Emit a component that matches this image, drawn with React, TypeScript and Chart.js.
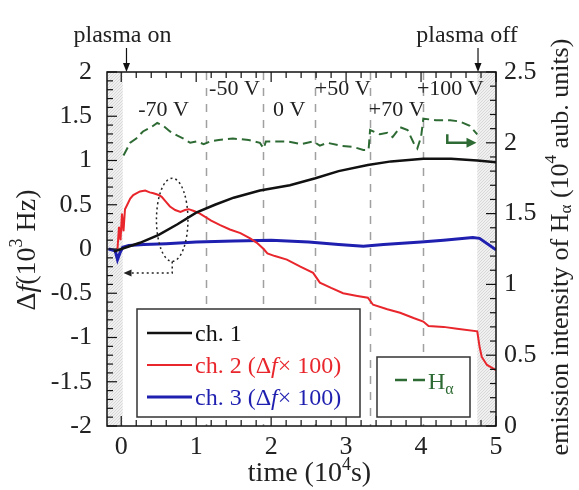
import React, { useEffect, useRef } from "react";
import { Chart, registerables } from "chart.js";

Chart.register(...registerables);

// ---------------- data ----------------
const ch1X = [-0.1, 0.0, 0.25, 0.5, 0.75, 1.0, 1.25, 1.5, 1.85, 2.25, 2.59, 2.9, 3.29, 3.6, 4.03, 4.4, 4.75, 5.0];
const ch1Y = [-0.03, 0.0, 0.07, 0.16, 0.28, 0.41, 0.5, 0.58, 0.66, 0.72, 0.8, 0.88, 0.95, 0.99, 1.02, 1.02, 1.0, 0.98];

const ch2X = [-0.05, -0.03, -0.01, 0.01, 0.03, 0.05, 0.08, 0.12, 0.16, 0.25, 0.32, 0.38, 0.43, 0.5, 0.54, 0.6, 0.65, 0.72, 0.79, 0.85, 0.9, 0.97, 1.05, 1.2, 1.32, 1.45, 1.59, 1.72, 1.81, 1.9, 1.95, 2.05, 2.21, 2.39, 2.56, 2.65, 2.8, 2.96, 3.15, 3.29, 3.36, 3.55, 3.72, 3.9, 4.03, 4.1, 4.3, 4.48, 4.75, 4.78, 4.81, 4.88, 5.0];
const ch2Y = [0.0, 0.25, 0.1, 0.4, 0.2, 0.45, 0.5, 0.57, 0.61, 0.65, 0.66, 0.64, 0.63, 0.61, 0.59, 0.53, 0.48, 0.44, 0.42, 0.44, 0.45, 0.43, 0.4, 0.32, 0.27, 0.22, 0.18, 0.12, 0.07, 0.0, -0.05, -0.08, -0.12, -0.2, -0.27, -0.38, -0.44, -0.5, -0.53, -0.55, -0.63, -0.68, -0.72, -0.78, -0.82, -0.87, -0.88, -0.9, -0.93, -1.1, -1.22, -1.31, -1.37];

const ch3X = [-0.17, -0.08, -0.05, -0.02, 0.02, 0.1, 0.3, 0.6, 1.0, 1.5, 2.0, 2.5, 2.9, 3.23, 3.5, 4.0, 4.3, 4.69, 4.78, 5.0];
const ch3Y = [0.0, -0.02, -0.12, -0.05, 0.02, 0.04, 0.05, 0.06, 0.08, 0.09, 0.1, 0.08, 0.05, 0.03, 0.05, 0.08, 0.1, 0.13, 0.12, -0.01];

const haX = [0.03, 0.12, 0.2, 0.29, 0.4, 0.48, 0.56, 0.65, 0.75, 0.83, 0.92, 1.01, 1.1, 1.19, 1.3, 1.49, 1.7, 1.85, 1.9, 1.93, 2.21, 2.4, 2.56, 2.65, 2.75, 2.92, 3.1, 3.23, 3.3, 3.32, 3.45, 3.55, 3.62, 3.72, 3.82, 3.9, 3.95, 4.0, 4.03, 4.2, 4.39, 4.52, 4.65, 4.75];
const haY = [1.91, 2.0, 2.03, 2.08, 2.11, 2.14, 2.12, 2.08, 2.05, 2.03, 2.0, 2.01, 1.99, 2.01, 2.02, 2.03, 2.02, 2.0, 1.96, 2.01, 2.01, 1.99, 2.01, 1.98, 2.0, 1.98, 1.97, 1.95, 1.95, 2.09, 2.06, 2.07, 2.04, 2.11, 2.09, 2.0, 1.96, 2.04, 2.17, 2.16, 2.16, 2.15, 2.12, 2.06];

const xTicks = [0, 1, 2, 3, 4, 5];
const leftTicks = [-2, -1.5, -1, -0.5, 0, 0.5, 1, 1.5, 2];
const rightTicks = [0, 0.5, 1, 1.5, 2, 2.5];

const voltLabels = ["-70 V", "-50 V", "0 V", "+50 V", "+70 V", "+100 V"];
const voltEdges = [0, 1.13, 1.89, 2.59, 3.32, 4.03, 4.75];
const voltRowY = [1.57, 1.8, 1.57, 1.8, 1.57, 1.8];

const plasmaOnX = 0.07;
const plasmaOffX = 4.76;
const bandLeftEnd = 0.02;
const bandRightStart = 4.75;

// annotation anchors (data units)
const ellipseC = { x: 0.68, y: 0.33, rx: 0.21, ry: 0.47 };
const leftArrow = { fromX: 0.68, yLow: -0.27, toX: 0.03 };
const greenArrow = { x0: 4.35, yTop: 2.06, y: 2.0, x1: 4.74 };

// ---------------- styling ----------------
const SERIF = '"Liberation Serif", "Times New Roman", "DejaVu Serif", serif';
const C_BLACK = "#111111";
const C_RED = "#e8262c";
const C_BLUE = "#1f1fb0";
const C_GREEN = "#2e6b34";
const C_TEXT = "#222222";

type Seg = { t: string; i?: boolean; sup?: boolean; sub?: boolean; c?: string };

function segFont(s: Seg, size: number) {
  const fs = s.sup || s.sub ? Math.round(size * 0.65) : size;
  return `${s.i ? "italic " : ""}${fs}px ${SERIF}`;
}

function drawRich(
  ctx: CanvasRenderingContext2D,
  segs: Seg[],
  x: number,
  y: number,
  size: number,
  color: string,
  align: "left" | "center",
  rot = 0,
  baseline: CanvasTextBaseline = "alphabetic"
) {
  ctx.save();
  ctx.translate(x, y);
  ctx.rotate(rot);
  ctx.textBaseline = baseline;
  ctx.textAlign = "left";
  const widths = segs.map((s) => {
    ctx.font = segFont(s, size);
    return ctx.measureText(s.t).width;
  });
  const total = widths.reduce((a, b) => a + b, 0);
  let cx = align === "center" ? -total / 2 : 0;
  segs.forEach((s, k) => {
    ctx.font = segFont(s, size);
    ctx.fillStyle = s.c || color;
    const dy = s.sup ? -size * 0.38 : s.sub ? size * 0.22 : 0;
    ctx.fillText(s.t, cx, dy);
    cx += widths[k];
  });
  ctx.restore();
}

function line(ctx: CanvasRenderingContext2D, x0: number, y0: number, x1: number, y1: number) {
  ctx.beginPath();
  ctx.moveTo(x0, y0);
  ctx.lineTo(x1, y1);
  ctx.stroke();
}

function makePattern(ctx: CanvasRenderingContext2D) {
  const c = document.createElement("canvas");
  c.width = 3;
  c.height = 3;
  const p = c.getContext("2d")!;
  p.fillStyle = "#f0f0f0";
  p.fillRect(0, 0, 3, 3);
  p.fillStyle = "#d8d8d8";
  p.fillRect(0, 0, 1, 1);
  p.fillRect(2, 1, 1, 1);
  p.fillRect(1, 2, 1, 1);
  return ctx.createPattern(c, "repeat")!;
}

const decor = {
  id: "decor",
  beforeDatasetsDraw(chart: any) {
    const { ctx, chartArea: ca, scales } = chart;
    const xs = scales.x;
    ctx.save();
    ctx.fillStyle = makePattern(ctx);
    const b1 = xs.getPixelForValue(bandLeftEnd);
    ctx.fillRect(ca.left, ca.top, b1 - ca.left, ca.bottom - ca.top);
    const b2 = xs.getPixelForValue(bandRightStart);
    ctx.fillRect(b2, ca.top, ca.right - b2, ca.bottom - ca.top);

    ctx.strokeStyle = "#a0a0a0";
    ctx.lineWidth = 1.5;
    ctx.setLineDash([8, 8]);
    voltEdges.slice(1, -1).forEach((v) => {
      const px = Math.round(xs.getPixelForValue(v)) + 0.5;
      line(ctx, px, ca.top, px, ca.bottom);
    });
    ctx.restore();
  },
  afterDatasetsDraw(chart: any) {
    const { ctx, chartArea: ca, scales } = chart;
    const xs = scales.x;
    const yl = scales.y;
    const yr = scales.y2;
    ctx.save();

    // voltage labels
    ctx.fillStyle = C_TEXT;
    ctx.font = `22px ${SERIF}`;
    ctx.textAlign = "center";
    ctx.textBaseline = "middle";
    voltLabels.forEach((lab, k) => {
      const cxv = (voltEdges[k] + voltEdges[k + 1]) / 2;
      ctx.fillText(lab, xs.getPixelForValue(cxv), yl.getPixelForValue(voltRowY[k]));
    });

    // dotted ellipse and arrow to left axis
    const ex = xs.getPixelForValue(ellipseC.x);
    const ey = yl.getPixelForValue(ellipseC.y);
    const erx = Math.abs(xs.getPixelForValue(ellipseC.x + ellipseC.rx) - ex);
    const ery = Math.abs(yl.getPixelForValue(ellipseC.y + ellipseC.ry) - ey);
    ctx.strokeStyle = "#222";
    ctx.lineWidth = 1.5;
    ctx.setLineDash([2, 3]);
    ctx.beginPath();
    ctx.ellipse(ex, ey, erx, ery, 0, 0, Math.PI * 2);
    ctx.stroke();
    const ay = yl.getPixelForValue(leftArrow.yLow);
    const ax1 = xs.getPixelForValue(leftArrow.toX);
    ctx.beginPath();
    ctx.moveTo(ex, ey + ery);
    ctx.lineTo(ex, ay);
    ctx.lineTo(ax1 + 6, ay);
    ctx.stroke();
    ctx.setLineDash([]);
    ctx.fillStyle = "#222";
    ctx.beginPath();
    ctx.moveTo(ax1, ay);
    ctx.lineTo(ax1 + 8, ay - 3.5);
    ctx.lineTo(ax1 + 8, ay + 3.5);
    ctx.closePath();
    ctx.fill();

    // green arrow to right axis
    const gx0 = xs.getPixelForValue(greenArrow.x0);
    const gx1 = xs.getPixelForValue(greenArrow.x1);
    const gyt = yr.getPixelForValue(greenArrow.yTop);
    const gy = yr.getPixelForValue(greenArrow.y);
    ctx.strokeStyle = C_GREEN;
    ctx.fillStyle = C_GREEN;
    ctx.lineWidth = 2.5;
    ctx.beginPath();
    ctx.moveTo(gx0, gyt);
    ctx.lineTo(gx0, gy);
    ctx.lineTo(gx1 - 8, gy);
    ctx.stroke();
    ctx.beginPath();
    ctx.moveTo(gx1, gy);
    ctx.lineTo(gx1 - 10, gy - 5);
    ctx.lineTo(gx1 - 10, gy + 5);
    ctx.closePath();
    ctx.fill();

    // frame
    ctx.strokeStyle = "#111";
    ctx.lineWidth = 1.5;
    ctx.strokeRect(ca.left, ca.top, ca.right - ca.left, ca.bottom - ca.top);

    // inward ticks
    ctx.lineWidth = 1.2;
    for (let k = 0; k <= 25; k++) {
      const px = xs.getPixelForValue(k * 0.2);
      const L = k % 5 === 0 ? 10 : 6;
      line(ctx, px, ca.bottom, px, ca.bottom - L);
      line(ctx, px, ca.top, px, ca.top + L);
    }
    for (let k = -20; k <= 20; k++) {
      const py = yl.getPixelForValue(k * 0.1);
      const L = k % 5 === 0 ? 10 : 6;
      line(ctx, ca.left, py, ca.left + L, py);
    }
    for (let k = 0; k <= 25; k++) {
      const py = yr.getPixelForValue(k * 0.1);
      const L = k % 5 === 0 ? 10 : 6;
      line(ctx, ca.right, py, ca.right - L, py);
    }

    // legend 1
    const l1 = { x: ca.left + 30, y: ca.bottom - 117, w: 223, h: 108 };
    ctx.fillStyle = "#ffffff";
    ctx.fillRect(l1.x, l1.y, l1.w, l1.h);
    ctx.strokeStyle = "#333";
    ctx.lineWidth = 1.5;
    ctx.strokeRect(l1.x, l1.y, l1.w, l1.h);
    const rows: { c: string; segs: Seg[] }[] = [
      { c: C_BLACK, segs: [{ t: "ch. 1" }] },
      { c: C_RED, segs: [{ t: "ch. 2 (\u0394" }, { t: "f", i: true }, { t: "\u00d7 100)" }] },
      { c: C_BLUE, segs: [{ t: "ch. 3 (\u0394" }, { t: "f", i: true }, { t: "\u00d7 100)" }] },
    ];
    rows.forEach((r, k) => {
      const ry = l1.y + 24 + k * 32;
      ctx.strokeStyle = r.c;
      ctx.lineWidth = k === 0 ? 2.5 : k === 1 ? 2 : 3;
      line(ctx, l1.x + 10, ry, l1.x + 55, ry);
      drawRich(ctx, r.segs, l1.x + 58, ry + 8, 24, r.c, "left");
    });

    // legend 2
    const l2 = { x: ca.left + 270, y: ca.bottom - 69, w: 93, h: 60 };
    ctx.fillStyle = "#ffffff";
    ctx.fillRect(l2.x, l2.y, l2.w, l2.h);
    ctx.strokeStyle = "#333";
    ctx.lineWidth = 1.5;
    ctx.strokeRect(l2.x, l2.y, l2.w, l2.h);
    ctx.strokeStyle = C_GREEN;
    ctx.lineWidth = 2.5;
    ctx.setLineDash([12, 6]);
    line(ctx, l2.x + 18, l2.y + 23, l2.x + 50, l2.y + 23);
    ctx.setLineDash([]);
    drawRich(ctx, [{ t: "H" }, { t: "\u03b1", sub: true }], l2.x + 51, l2.y + 32, 24, C_GREEN, "left");

    ctx.restore();
  },
  afterDraw(chart: any) {
    const { ctx, chartArea: ca, scales } = chart;
    const xs = scales.x;
    ctx.save();
    // plasma on / off
    ctx.fillStyle = C_TEXT;
    ctx.font = `24px ${SERIF}`;
    ctx.textAlign = "center";
    ctx.textBaseline = "alphabetic";
    const pon = xs.getPixelForValue(plasmaOnX);
    const poff = xs.getPixelForValue(plasmaOffX);
    ctx.fillText("plasma on", pon - 4, 42);
    ctx.fillText("plasma off", poff - 11, 42);
    ctx.strokeStyle = "#111";
    ctx.fillStyle = "#111";
    ctx.lineWidth = 1.2;
    [pon, poff].forEach((px) => {
      line(ctx, px, 48, px, ca.top - 6);
      ctx.beginPath();
      ctx.moveTo(px, ca.top);
      ctx.lineTo(px - 3.5, ca.top - 9);
      ctx.lineTo(px + 3.5, ca.top - 9);
      ctx.closePath();
      ctx.fill();
    });

    // axis titles
    drawRich(
      ctx,
      [{ t: "time (10" }, { t: "4", sup: true }, { t: "s)" }],
      (ca.left + ca.right) / 2 + 8,
      481,
      28,
      C_TEXT,
      "center"
    );
    drawRich(
      ctx,
      [{ t: "\u0394" }, { t: "f", i: true }, { t: "(10" }, { t: "3", sup: true }, { t: " Hz)" }],
      28,
      250,
      28,
      C_TEXT,
      "center",
      -Math.PI / 2,
      "middle"
    );
    drawRich(
      ctx,
      [
        { t: "emission intensity of H" },
        { t: "\u03b1", sub: true },
        { t: " (10" },
        { t: "4", sup: true },
        { t: " aub. units)" },
      ],
      561,
      247,
      26,
      C_TEXT,
      "center",
      -Math.PI / 2,
      "middle"
    );
    ctx.restore();
  },
};

function zip(xs: number[], ys: number[]) {
  return xs.map((x, i) => ({ x, y: ys[i] }));
}

export default function App() {
  const ref = useRef<HTMLCanvasElement | null>(null);
  useEffect(() => {
    document.body.style.margin = "0";
    const canvas = ref.current!;
    const tickFont = { family: "Liberation Serif", size: 26 };
    const chart = new Chart(canvas, {
      type: "line",
      data: {
        datasets: [
          { label: "ch. 1", data: zip(ch1X, ch1Y), borderColor: C_BLACK, borderWidth: 2.5, yAxisID: "y" },
          { label: "ch. 2", data: zip(ch2X, ch2Y), borderColor: C_RED, borderWidth: 2, yAxisID: "y" },
          { label: "ch. 3", data: zip(ch3X, ch3Y), borderColor: C_BLUE, borderWidth: 3, yAxisID: "y" },
          {
            label: "H\u03b1",
            data: zip(haX, haY),
            borderColor: C_GREEN,
            borderWidth: 2,
            borderDash: [9, 5],
            yAxisID: "y2",
          },
        ],
      },
      options: {
        responsive: false,
        animation: false,
        layout: { padding: { top: 72, left: 0, right: 0, bottom: 0 } },
        elements: { point: { radius: 0 }, line: { tension: 0 } },
        plugins: { legend: { display: false }, tooltip: { enabled: false } },
        scales: {
          x: {
            type: "linear",
            min: -0.19,
            max: 5,
            grid: { display: false, drawTicks: false },
            border: { display: false },
            afterBuildTicks: (s: any) => {
              s.ticks = xTicks.map((v) => ({ value: v }));
            },
            afterFit: (s: any) => {
              s.height = 64;
            },
            ticks: { font: tickFont, color: C_TEXT, padding: 6, maxRotation: 0, autoSkip: false, callback: (v: any) => String(v) },
          },
          y: {
            type: "linear",
            position: "left",
            min: -2,
            max: 2,
            grid: { display: false, drawTicks: false },
            border: { display: false },
            afterBuildTicks: (s: any) => {
              s.ticks = leftTicks.map((v) => ({ value: v }));
            },
            afterFit: (s: any) => {
              s.width = 107;
            },
            ticks: { font: tickFont, color: C_TEXT, padding: 15, autoSkip: false, callback: (v: any) => String(v) },
          },
          y2: {
            type: "linear",
            position: "right",
            min: 0,
            max: 2.5,
            grid: { display: false, drawTicks: false },
            border: { display: false },
            afterBuildTicks: (s: any) => {
              s.ticks = rightTicks.map((v) => ({ value: v }));
            },
            afterFit: (s: any) => {
              s.width = 83;
            },
            ticks: { font: tickFont, color: C_TEXT, padding: 8, autoSkip: false, callback: (v: any) => String(v) },
          },
        },
      },
      plugins: [decor],
    });
    return () => chart.destroy();
  }, []);
  return (
    <div style={{ width: 579, height: 490 }}>
      <canvas ref={ref} width={579} height={490} style={{ display: "block" }} />
    </div>
  );
}
